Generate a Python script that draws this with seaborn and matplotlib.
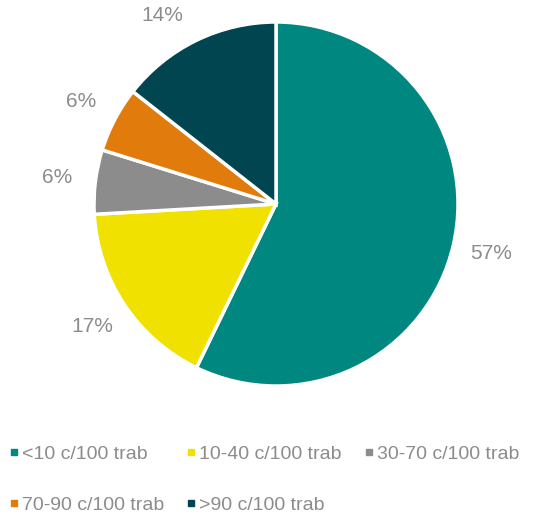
import matplotlib
matplotlib.use("Agg")
import matplotlib.pyplot as plt
from matplotlib.lines import Line2D
import numpy as np
import seaborn as sns

# ─── Dados ───────────────────────────────────────────────
categorias = ["<10 c/100 trab", "10-40 c/100 trab", "30-70 c/100 trab",
              "70-90 c/100 trab", ">90 c/100 trab"]
valores = [57.2, 16.9, 5.7, 5.8, 14.4]
cores = ["#00877F", "#F0E100", "#8C8C8C", "#E07B0C", "#00454F"]
rotulos = [f"{round(v):.0f}%" for v in valores]

sns.set_theme(style="white")
plt.rcParams['font.family'] = ['Liberation Sans', 'DejaVu Sans']
paleta = sns.color_palette(cores)

fig = plt.figure(figsize=(5.35, 5.15), dpi=100)
ax = fig.add_axes([94 / 535, (515 - 204 - 182) / 515, 364 / 535, 364 / 515])

wedges, textos = ax.pie(valores, labels=rotulos, colors=paleta, startangle=90,
                        counterclock=False, labeldistance=1.21,
                        wedgeprops=dict(edgecolor="white", linewidth=2.5),
                        textprops=dict(color="#8C8C8C", fontsize=15))

# rótulo de 14% afastado do topo (como no Excel)
desloc = [0, 0, 0, 0, 5.3]
for w, t, d in zip(wedges, textos, desloc):
    ang = np.deg2rad((w.theta1 + w.theta2) / 2 + d)
    t.set_position((1.21 * np.cos(ang), 1.21 * np.sin(ang)))
    t.set_ha("center")
    t.set_va("center")
ax.set_xlim(-1, 1)
ax.set_ylim(-1, 1)
ax.set_aspect("auto")

# ── Legenda (ordem por linhas) ──
ordem = [0, 3, 1, 4, 2]
handles = [Line2D([], [], marker="s", linestyle="", markersize=4,
                  color=paleta[i], label=categorias[i]) for i in ordem]
fig.legend(handles=handles, loc="upper left", bbox_to_anchor=(0.0187, 0.135),
           ncol=3, frameon=False, fontsize=14, labelcolor="#8C8C8C",
           handlelength=0.4, handletextpad=0.21, columnspacing=1.2,
           labelspacing=1.72, borderaxespad=0, borderpad=0)

fig.savefig("out.png", dpi=100)
